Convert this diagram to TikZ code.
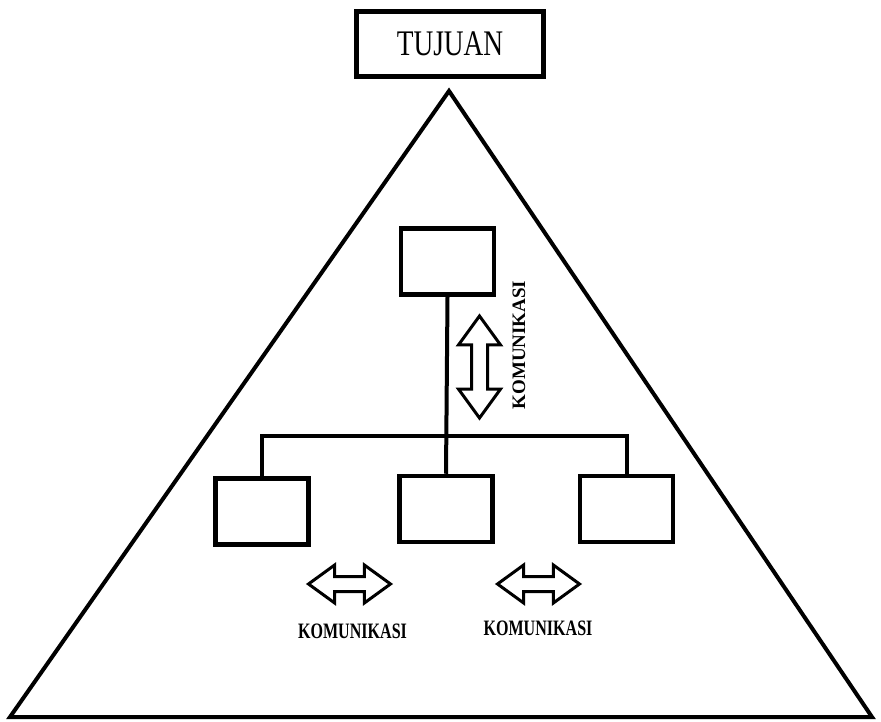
\documentclass[tikz,border=0pt]{standalone}
\usepackage{fontspec}
\setmainfont{Liberation Serif}[BoldFont={Liberation Serif Bold}]
\usepackage{graphicx}
\usetikzlibrary{shapes.arrows}

\newcommand{\squeezetext}[1]{\scalebox{0.73}[1]{#1}}

\begin{document}
\begin{tikzpicture}[x=1pt,y=-1pt,
    orgbox/.style={draw=black,line width=4.5pt,minimum width=93pt,
      minimum height=66pt,inner sep=0pt},
    goalbox/.style={draw=black,line width=4.5pt,minimum width=187pt,
      minimum height=65pt,inner sep=0pt},
    link/.style={line width=4pt},
    commarrow/.style={draw=black,double arrow,line width=3pt,inner xsep=0pt,
      double arrow tip angle=72},
    commlabel/.style={font=\bfseries\fontsize{22}{22}\selectfont,inner sep=0pt}
  ]
    \useasboundingbox (0,0) rectangle (881,722);
    % pyramid
    \coordinate (apex) at (449,91);
    \coordinate (leftfoot) at (10,717);
    \coordinate (rightfoot) at (872,717);
    \draw[line width=4pt] (apex) -- (rightfoot) -- (leftfoot) -- cycle;

    \node[goalbox] (goal) at (450,44)
      {\scalebox{0.76}[1]{\fontsize{36}{36}\selectfont TUJUAN}};

    % organisation
    \node[orgbox] (head) at (447.5,261.5) {};
    \node[orgbox] (unitA) at (262,511.5) {};
    \node[orgbox] (unitB) at (446,509) {};
    \node[orgbox] (unitC) at (626.5,509) {};
    \coordinate (bus) at (446,436);
    \draw[link] (head.south) -- (unitB.north);
    \draw[link] (unitA.north) |- (bus) -| (unitC.north);

    % communication
    \node[commarrow,rotate=90,minimum height=102pt,inner ysep=6.5pt,
      double arrow head extend=13pt] (vcomm) at (479.5,367) {};
    \node[commlabel,rotate=90,font=\bfseries\fontsize{19}{19}\selectfont]
      (vlabel) at (519,345) {KOMUNIKASI};
    \node[commarrow,minimum height=82pt,inner ysep=6pt,
      double arrow head extend=11.5pt] (hcommA) at (349.5,584) {};
    \node[commarrow,minimum height=82pt,inner ysep=6pt,
      double arrow head extend=11.5pt] (hcommB) at (538.5,584) {};
    \node[commlabel] (labelA) at (352.5,631) {\squeezetext{KOMUNIKASI}};
    \node[commlabel] (labelB) at (538,628) {\squeezetext{KOMUNIKASI}};
  \end{tikzpicture}
\end{document}
